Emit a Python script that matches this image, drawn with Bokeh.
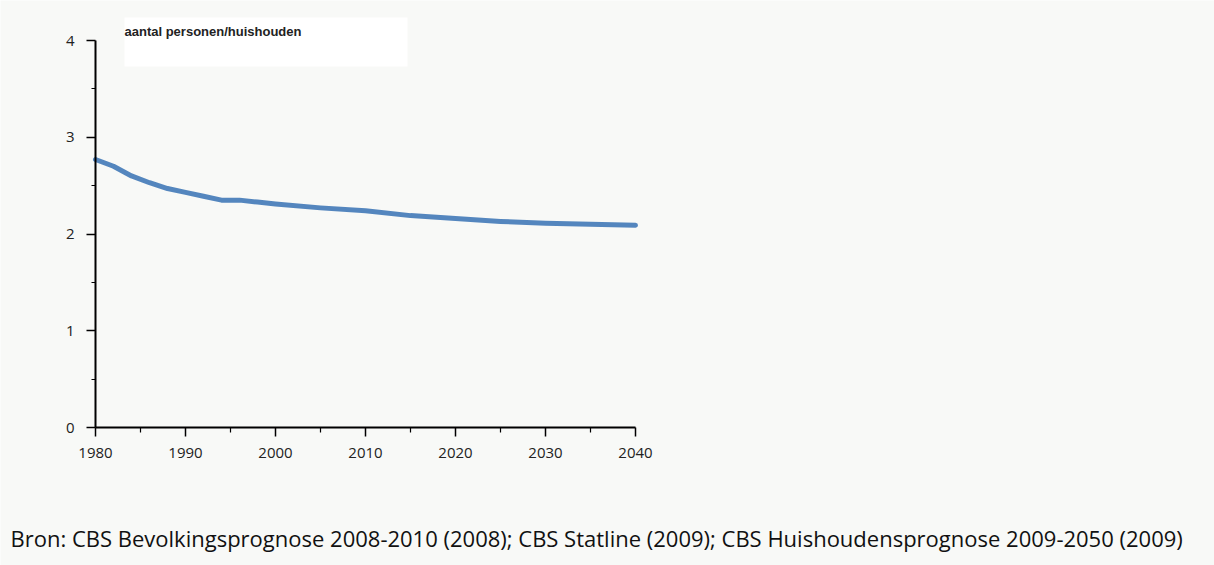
from bokeh.plotting import figure
from bokeh.models import Range1d, FixedTicker, Label, BoxAnnotation, ColumnDataSource, LinearAxis
from bokeh.embed import file_html
from bokeh.resources import INLINE

# Data
years = [1980, 1982, 1984, 1986, 1988, 1990, 1992, 1994, 1996, 1998, 2000,
         2005, 2010, 2015, 2020, 2025, 2030, 2035, 2040]
persons = [2.77, 2.70, 2.60, 2.53, 2.47, 2.43, 2.39, 2.35, 2.35, 2.33, 2.31,
           2.27, 2.24, 2.19, 2.16, 2.13, 2.11, 2.10, 2.09]
x_ticks = [1980, 1990, 2000, 2010, 2020, 2030, 2040]
x_minor = [1985, 1995, 2005, 2015, 2025, 2035]
y_ticks = [0, 1, 2, 3, 4]
y_minor = [0.5, 1.5, 2.5, 3.5]
title_text = "aantal personen/huishouden"
source_text = ("Bron: CBS Bevolkingsprognose 2008-2010 (2008); CBS Statline (2009); "
               "CBS Huishoudensprognose 2009-2050 (2009)")

W, H = 1214, 565
left_px, bottom_px = 95, 427
px_per_year = 9.0
px_per_unit = 96.75

x_start = 1980 - left_px / px_per_year
x_end = 1980 + (W - left_px) / px_per_year
y_start = (bottom_px - H) / px_per_unit
y_end = bottom_px / px_per_unit

p = figure(width=W, height=H, output_backend="svg", toolbar_location=None,
           x_range=Range1d(x_start, x_end), y_range=Range1d(y_start, y_end),
           x_axis_location=None, y_axis_location=None,
           min_border_left=0, min_border_right=0, min_border_top=0,
           min_border_bottom=0)
p.background_fill_color = "#f8f9f7"
p.border_fill_color = "#f8f9f7"
p.outline_line_color = None
p.xgrid.visible = False
p.ygrid.visible = False

src = ColumnDataSource(dict(x=years, y=persons))
p.line("x", "y", source=src, line_color="#4b80bb", line_width=5, line_alpha=0.95,
       line_join="round", line_cap="round")

xaxis = LinearAxis(fixed_location=0)
yaxis = LinearAxis(fixed_location=1980)
p.add_layout(xaxis, "below")
p.add_layout(yaxis, "left")

for ax in (xaxis, yaxis):
    ax.axis_line_color = "black"
    ax.axis_line_width = 2
    ax.major_tick_line_color = "black"
    ax.major_tick_line_width = 1.5
    ax.minor_tick_line_color = "black"
    ax.minor_tick_line_width = 1.2
    ax.major_tick_in = 0
    ax.minor_tick_in = 0
    ax.major_label_text_font = "Open Sans"
    ax.major_label_text_font_size = "15px"
    ax.major_label_text_color = "#222222"

xaxis.ticker = FixedTicker(ticks=x_ticks, minor_ticks=x_minor)
xaxis.bounds = (1980, 2040)
xaxis.major_tick_out = 9
xaxis.minor_tick_out = 5
xaxis.major_label_standoff = 11

yaxis.ticker = FixedTicker(ticks=y_ticks, minor_ticks=y_minor)
yaxis.bounds = (0, 4)
yaxis.major_tick_out = 9
yaxis.minor_tick_out = 4
yaxis.major_label_standoff = 12

def dx(px):
    return 1980 + (px - left_px) / px_per_year

def dy(py):
    return (bottom_px - py) / px_per_unit

box = BoxAnnotation(left=dx(124), right=dx(407), top=dy(17), bottom=dy(66),
                    fill_color="white", fill_alpha=1.0, line_color=None)
p.add_layout(box)

p.add_layout(Label(x=dx(124), y=dy(31), text=title_text, text_font="Liberation Sans",
                   text_font_style="bold", text_font_size="13px", text_color="#222222",
                   text_baseline="alphabetic"))

p.add_layout(Label(x=dx(10), y=dy(537), text=source_text, text_font="Open Sans",
                   text_font_size="22px", text_color="#111111",
                   text_baseline="alphabetic"))

open("out.html", "w").write(file_html(p, INLINE))
